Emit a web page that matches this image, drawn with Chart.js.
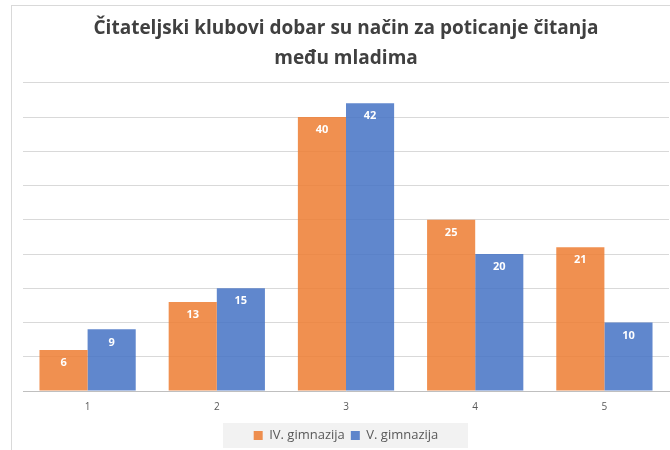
<!DOCTYPE html>
<html>
<head>
<meta charset="utf-8">
<script src="https://cdn.jsdelivr.net/npm/chart.js@4"></script>
<style>
  html, body { margin: 0; padding: 0; background: #fff; overflow: hidden; width: 670px; height: 450px; }
  #frame {
    position: absolute; left: 11px; top: 5px; width: 680px; height: 460px;
    border: 1px solid #d9d9d9; background: #fff;
  }
  #wrap { position: absolute; left: 0; top: 0; width: 670px; height: 444px; }
</style>
</head>
<body>
<div id="frame"><div id="wrap"><canvas id="chart" width="670" height="444"></canvas></div></div>
<script>
const categories = ["1", "2", "3", "4", "5"];
const seriesNames = ["IV. gimnazija", "V. gimnazija"];
const ivGimnazija = [6, 13, 40, 25, 21];
const vGimnazija = [9, 15, 42, 20, 10];
const titleLines = ["Čitateljski klubovi dobar su način za poticanje čitanja", "među mladima"];

const orange = "rgba(237, 125, 49, 0.85)";
const blue = "rgba(68, 114, 196, 0.85)";

// white value labels just inside the top of each bar
const barLabels = {
  id: "barLabels",
  afterDatasetsDraw(chart) {
    const ctx = chart.ctx;
    ctx.save();
    ctx.fillStyle = "#ffffff";
    ctx.font = "bold 11px 'Open Sans', sans-serif";
    ctx.textAlign = "center";
    ctx.textBaseline = "middle";
    chart.data.datasets.forEach((ds, i) => {
      chart.getDatasetMeta(i).data.forEach((bar, j) => {
        ctx.fillText(ds.data[j], bar.x, bar.y + 13);
      });
    });
    ctx.restore();
  }
};

// light grey box behind the legend
const legendBox = {
  id: "legendBox",
  beforeDraw(chart) {
    const lg = chart.legend;
    if (!lg) return;
    const ctx = chart.ctx;
    ctx.save();
    ctx.fillStyle = "#f2f2f2";
    ctx.fillRect(lg.left + lg.width / 2 - 123, 417, 245, 25);
    ctx.restore();
  }
};

new Chart(document.getElementById("chart").getContext("2d"), {
  type: "bar",
  data: {
    labels: categories,
    datasets: [
      { label: seriesNames[0], data: ivGimnazija, backgroundColor: orange, borderWidth: 0 },
      { label: seriesNames[1], data: vGimnazija, backgroundColor: blue, borderWidth: 0 },
    ],
  },
  options: {
    responsive: false,
    animation: false,
    devicePixelRatio: 1,
    categoryPercentage: 0.745,
    barPercentage: 1,
    layout: { padding: { left: 11, right: 13, top: 0, bottom: -2 } },
    scales: {
      x: {
        grid: { display: false, drawTicks: false },
        border: { color: "#bfbfbf", width: 1 },
        ticks: { color: "#595959", font: { family: "'Open Sans', sans-serif", size: 10 }, padding: 10 },
      },
      y: {
        min: 0,
        max: 45,
        ticks: { display: false, stepSize: 5 },
        grid: { color: "#d9d9d9", drawTicks: false },
        border: { display: false },
      },
    },
    plugins: {
      title: {
        display: true,
        text: titleLines,
        color: "#404040",
        font: { family: "'Open Sans', sans-serif", size: 19, weight: "bold", lineHeight: 1.6 },
        padding: { top: 7, bottom: 9 },
      },
      legend: {
        position: "bottom",
        labels: {
          color: "#595959",
          font: { family: "'Open Sans', sans-serif", size: 13 },
          boxWidth: 9,
          boxHeight: 9,
          padding: 6,
        },
      },
      tooltip: { enabled: false },
    },
  },
  plugins: [legendBox, barLabels],
});
</script>
</body>
</html>
